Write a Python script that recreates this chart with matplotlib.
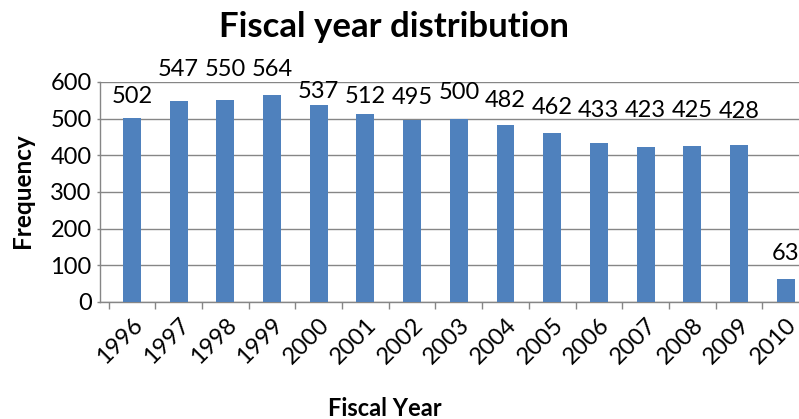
import matplotlib
matplotlib.use("Agg")
import matplotlib.pyplot as plt
import numpy as np

years = ["1996", "1997", "1998", "1999", "2000", "2001", "2002", "2003",
         "2004", "2005", "2006", "2007", "2008", "2009", "2010"]
freq = [502, 547, 550, 564, 537, 512, 495, 500, 482, 462, 433, 423, 425, 428, 63]
yticks = [0, 100, 200, 300, 400, 500, 600]
# layout: gap (pixels) between each bar top and its label baseline
label_gap_px = [15, 25, 24, 19, 7, 11, 17, 20, 18, 19, 26, 30, 29, 27, 19]

plt.rcParams['font.family'] = ['Lato', 'DejaVu Sans']

W, H = 799, 419
fig = plt.figure(figsize=(W/100, H/100), dpi=100)
ax = fig.add_axes([100/W, (H-302)/H, 709/W, 220/H])
x = np.arange(len(years))
ax.bar(x, freq, width=0.385, color="#4F81BD", zorder=3)
ax.set_xlim(-0.685, 14.49)
ax.set_ylim(0, 600)
ax.set_yticks(yticks)
ax.set_yticklabels([str(v) for v in yticks], fontsize=17)
ax.yaxis.grid(True, color="#868686", linewidth=1, zorder=0)
ax.set_xticks(x)
ax.set_xticklabels(years, rotation=45, ha="right", rotation_mode="anchor", fontsize=17)
ax.set_xticks(np.arange(len(years)+1) - 0.5, minor=True)
ax.tick_params(axis="x", which="major", length=0, pad=9)
ax.tick_params(axis="x", which="minor", length=5, color="#868686", width=1)
ax.tick_params(axis="y", length=2.5, color="#868686", width=1, pad=3.5)
for s in ["top", "right"]:
    ax.spines[s].set_visible(False)
for s in ["left", "bottom"]:
    ax.spines[s].set_color("#868686")
    ax.spines[s].set_linewidth(1)

for xi, v, g in zip(x, freq, label_gap_px):
    ax.annotate(str(v), (xi, v), xytext=(0, g), textcoords="offset pixels",
                ha="center", va="baseline", fontsize=17, clip_on=False)

fig.text(394/W, 1 - 27/H, "Fiscal year distribution", ha="center", va="center",
         fontsize=25, fontweight="bold")
fig.text(385/W, 1 - 408/H, "Fiscal Year", ha="center", va="center",
         fontsize=17, fontweight="bold")
fig.text(22/W, 1 - 191/H, "Frequency", ha="center", va="center", rotation=90,
         fontsize=17.5, fontweight="bold")

fig.savefig("out.png", dpi=100)
